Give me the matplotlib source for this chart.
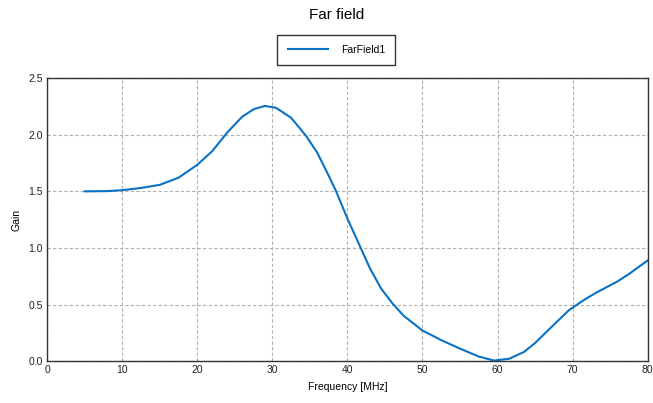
import matplotlib
matplotlib.use('Agg')
import matplotlib.pyplot as plt

plt.rcParams['font.family'] = ['Liberation Sans', 'DejaVu Sans']

# frequency [MHz] and gain
freq = [5, 8, 10, 12.5, 15, 17.5, 20, 22, 24, 26, 27.5, 29, 30.5, 32.5, 34.5,
        36, 37.5, 38.5, 40, 41.5, 43, 44.5, 46, 47.5, 50, 52.5, 55, 57.5, 59.5,
        61.5, 63.5, 65, 67, 69.5, 71.5, 73, 76, 77.5, 80]
gain = [1.50, 1.502, 1.51, 1.53, 1.557, 1.62, 1.734, 1.855, 2.02, 2.16, 2.225,
        2.255, 2.238, 2.15, 1.99, 1.84, 1.64, 1.50, 1.26, 1.04, 0.82, 0.64,
        0.51, 0.40, 0.27, 0.185, 0.11, 0.04, 0.005, 0.02, 0.08, 0.16, 0.29,
        0.45, 0.54, 0.60, 0.705, 0.77, 0.89]

LINE = '#0a72c4'

fig = plt.figure(figsize=(6.53, 4.03), dpi=100)
ax = fig.add_axes([0.072, 0.104, 0.920, 0.702])
ax.plot(freq, gain, color=LINE, linewidth=1.5, label='FarField1')

ax.set_xlim(0, 80)
ax.set_ylim(0, 2.5)
ax.set_xticks(range(0, 81, 10))
ax.set_yticks([0.0, 0.5, 1.0, 1.5, 2.0, 2.5])
ax.set_yticklabels(['0.0', '0.5', '1.0', '1.5', '2.0', '2.5'])
ax.tick_params(length=0, labelsize=7.5, pad=3, colors='#222222')
ax.grid(True, linestyle=(0, (3, 2)), color='#b0b0b0', linewidth=0.8)
for s in ax.spines.values():
	s.set_color('#333333')
	s.set_linewidth(1.0)

ax.set_xlabel('Frequency [MHz]', fontsize=7.5, labelpad=5)
ax.set_ylabel('Gain', fontsize=7.5, labelpad=5)

fig.text(0.515, 0.962, 'Far field', ha='center', va='center', fontsize=11)
fig.legend(loc='center', bbox_to_anchor=(0.515, 0.876), fontsize=7.5,
           fancybox=False, edgecolor='#333333', framealpha=1,
           borderpad=1.0, handlelength=3.9, handletextpad=1.2)

fig.savefig('out.png', dpi=100)
